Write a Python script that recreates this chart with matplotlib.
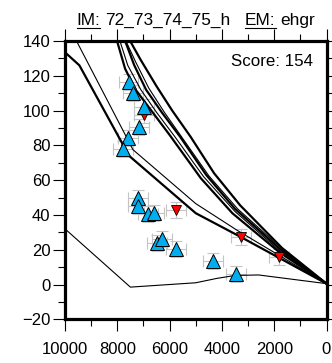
import matplotlib
matplotlib.use('Agg')
import matplotlib.pyplot as plt
from matplotlib.ticker import MultipleLocator
plt.rcParams['font.family'] = 'sans-serif'
plt.rcParams['font.sans-serif'] = ['Liberation Sans', 'DejaVu Sans']

# observations (x, y)
up_x = [7570, 7400, 6980, 7160, 7580, 7770, 7220, 7220, 6840, 6600, 6470, 6280, 5760, 4330, 3460]
up_y = [116.5, 110.2, 102.2, 90.3, 84.0, 77.8, 49.8, 45.0, 40.3, 41.2, 24.0, 25.9, 20.7, 13.5, 6.3]
dn_x = [6980, 5760, 3280, 1800]
dn_y = [97.4, 42.7, 27.4, 15.9]
x_err = 380
y_err = 4.6

# model curves
thick_curves = [
    ([10000, 9450, 7550, 5000, 3300, 0], [133.5, 126, 74, 41, 27.5, 0.5]),
    ([8010, 7700, 7300, 6750, 6000, 4800, 3600, 1800, 0], [140, 124, 112, 101, 86, 61, 41, 18.5, 0.5]),
    ([7510, 7100, 6500, 5900, 5200, 4300, 3300, 1700, 0], [140, 129, 114, 100, 85, 64, 45.5, 21, 0.5]),
    ([7700, 7350, 6900, 6300, 5600, 4600, 3500, 1750, 0], [140, 126, 112, 99, 85, 63, 43.5, 20, 0.5]),
]
thin_curves = [
    ([9560, 7400, 5000, 3400, 0], [140, 77.5, 46.5, 31, 0.5]),
    ([7900, 7600, 7100, 6500, 5800, 4700, 3500, 1800, 0], [140, 126, 112, 99, 85, 62, 42, 19.5, 0.5]),
    ([7670, 7300, 6800, 6200, 5500, 4500, 3400, 1700, 0], [140, 128, 113, 99, 84, 62.5, 43.5, 20.5, 0.5]),
    ([10000, 7500, 5000, 4200, 3500, 2600, 0], [32, -1.5, 1, 3.5, 5.2, 5.5, 0.5]),
]

fig = plt.figure(figsize=(3.32, 3.63), dpi=100)
ax = fig.add_axes([65/332, 43.7/363, 261.5/332, 278.3/363])

for xs, ys in thick_curves:
    ax.plot(xs, ys, color='black', linewidth=1.6, zorder=2)
for xs, ys in thin_curves:
    ax.plot(xs, ys, color='black', linewidth=0.8, zorder=2)

ax.errorbar(dn_x + up_x, dn_y + up_y, xerr=x_err, yerr=y_err, fmt='none',
            ecolor='#c4c4c4', elinewidth=0.8, capsize=4, capthick=0.8, zorder=1)
ax.plot(dn_x, dn_y, linestyle='none', marker='v', markersize=7.5,
        markerfacecolor='#ff0000', markeredgecolor='black', markeredgewidth=0.6, zorder=3)
ax.plot(up_x, up_y, linestyle='none', marker='^', markersize=10,
        markerfacecolor='#00aeef', markeredgecolor='black', markeredgewidth=0.7, zorder=4)

ax.set_xlim(10000, 0)
ax.set_ylim(-20, 140)
ax.xaxis.set_major_locator(MultipleLocator(2000))
ax.xaxis.set_minor_locator(MultipleLocator(1000))
ax.yaxis.set_major_locator(MultipleLocator(20))
ax.yaxis.set_minor_locator(MultipleLocator(10))
for s in ax.spines.values():
    s.set_linewidth(2.3)
ax.tick_params(which='both', direction='out', top=True, right=True, width=0.8, labelsize=12)
ax.tick_params(which='major', length=8.5)
ax.tick_params(which='minor', length=5)
ax.tick_params(axis='x', pad=7.5)
ax.tick_params(axis='y', pad=2)

ax.text(0.95, 0.9256, 'Score: 154', transform=ax.transAxes, ha='right', va='center', fontsize=12.2)

# title with underlined labels
parts = [('IM:', True, 76.5), ('72_73_74_75_h', False, 105.5), ('EM:', True, 245), ('ehgr', False, 280)]
fig.canvas.draw()
rend = fig.canvas.get_renderer()
for txt, ul, xp in parts:
    t = fig.text(xp/332, 1 - 25/363, txt, fontsize=12.4, ha='left', va='baseline')
    if ul:
        bb = t.get_window_extent(renderer=rend)
        fig.add_artist(plt.Line2D([bb.x0/332, bb.x1/332], [1 - 27.5/363, 1 - 27.5/363],
                                  transform=fig.transFigure, color='black', linewidth=0.8))

fig.savefig('out.png', dpi=100)
